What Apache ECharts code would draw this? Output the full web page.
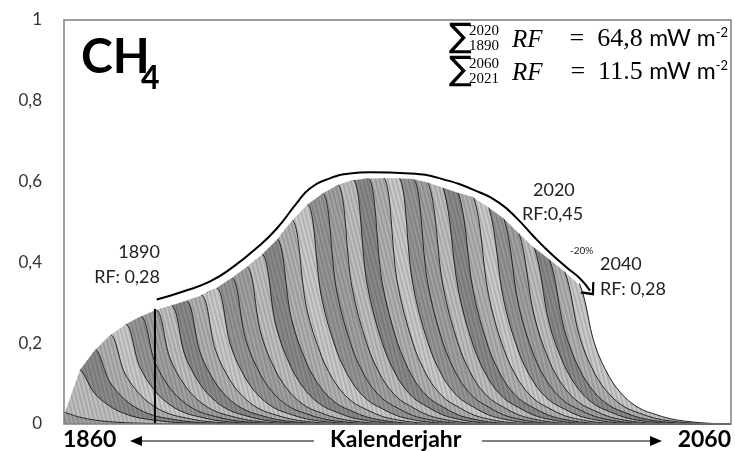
<!DOCTYPE html>
<html>
<head>
<meta charset="utf-8">
<script src="https://cdn.jsdelivr.net/npm/echarts@6/dist/echarts.min.js"></script>
<style>
html, body { margin: 0; padding: 0; background: #fff; }
#main { width: 735px; height: 451px; }
</style>
</head>
<body>
<div id="main"></div>
<script>
// time steps (5-year) on the x axis
var years = [1860, 1865, 1870, 1875, 1880, 1885, 1890, 1895, 1900, 1905, 1910, 1915, 1920,
    1925, 1930, 1935, 1940, 1945, 1950, 1955, 1960, 1965, 1970, 1975, 1980, 1985, 1990,
    1995, 2000, 2005, 2010, 2015, 2020, 2025, 2030, 2035, 2040, 2045, 2050, 2055, 2060,
    2065, 2070, 2075, 2080];
// total RF (top of the grey area) while emitting, 1860..2030
var totalRF = [0.03, 0.135, 0.185, 0.222, 0.248, 0.268, 0.284, 0.295, 0.307, 0.32, 0.338,
    0.363, 0.39, 0.421, 0.458, 0.505, 0.545, 0.572, 0.593, 0.606, 0.61, 0.611, 0.611, 0.609,
    0.6, 0.587, 0.575, 0.564, 0.539, 0.512, 0.475, 0.44, 0.411, 0.381, 0.348];
// fraction of a year's RF left after 0, 5, 10 ... years
var decay = [1, 0.57, 0.33, 0.19, 0.11, 0.069, 0.037, 0.02, 0.009, 0.003, 0];
// black curve drawn above the area
var outlineYears = [1890.6, 1899.3, 1908.2, 1915.8, 1923.6, 1930.2, 1936.7, 1941.1, 1947.7,
    1954.3, 1960.9, 1974.1, 1984, 1997.2, 2003.8, 2009.4, 2014.7, 2020.3, 2025.9, 2030.2, 2033.5];
var outlineRF = [0.308, 0.328, 0.353, 0.389, 0.436, 0.484, 0.546, 0.583, 0.608, 0.62, 0.623,
    0.62, 0.608, 0.573, 0.546, 0.509, 0.466, 0.424, 0.387, 0.36, 0.33];
var markYear = 1890;
var markRF = [0, 0.285];
var yTicks = ['0', '0,2', '0,4', '0,6', '0,8', '1'];

var greys = ['#a2a2a2', '#c0c0c0', '#8a8a8a', '#b2b2b2', '#cbcbcb', '#969696'];

// stack top after cohort k at time step i
function cum(k, i) {
    if (i <= k) return totalRF[i];
    var d = i - k;
    return d < decay.length ? totalRF[k] * decay[d] : 0;
}

var chartDom = document.getElementById('main');
var myChart = echarts.init(chartDom);
var option;

var stripes = {
    symbol: 'rect',
    symbolSize: 1,
    dashArrayX: [1, 0],
    dashArrayY: [2, 2],
    rotation: 1.32,
    color: 'rgba(0,0,0,0.13)'
};

var series = [];
for (var k = 0; k < totalRF.length; k++) {
    var band = [];
    for (var i = 0; i < years.length; i++) {
        var v = cum(k, i) - (k > 0 ? cum(k - 1, i) : 0);
        band.push(Math.max(0, v));
    }
    series.push({
        type: 'line',
        stack: 'rf',
        data: band,
        smooth: 0.35,
        symbol: 'none',
        silent: true,
        itemStyle: { decal: stripes },
        lineStyle: { color: '#222', width: 1, decal: stripes },
        areaStyle: { color: greys[k % greys.length], opacity: 1, decal: stripes },
        z: 2
    });
}

// white cover above the total while emitting, hides the overlap of smoothed stack tops
var last = totalRF.length - 1;
var envTop = years.map(function (y, i) { return i <= last ? cum(last, i) : null; });
series.push({
    type: 'line',
    stack: 'cover',
    data: envTop,
    symbol: 'none',
    silent: true,
    lineStyle: { color: '#fff', width: 2 },
    z: 3
});
series.push({
    type: 'line',
    stack: 'cover',
    data: envTop.map(function (v) { return v === null ? null : 1 - v; }),
    symbol: 'none',
    silent: true,
    lineStyle: { width: 0 },
    areaStyle: { color: '#fff', opacity: 1 },
    z: 3
});

var outline = outlineYears.map(function (y, i) { return [y, outlineRF[i]]; });
outline[outline.length - 1] = {
    value: outline[outline.length - 1],
    symbol: 'path://M0,0L10,10L0,20',
    symbolSize: [9, 16],
    symbolRotate: -50,
    itemStyle: { color: 'none', borderColor: '#000', borderWidth: 2 }
};
series.push({
    type: 'line',
    xAxisIndex: 1,
    data: outline,
    smooth: 0.5,
    symbol: 'none',
    silent: true,
    lineStyle: { color: '#000', width: 2 },
    z: 4
});

series.push({
    type: 'line',
    xAxisIndex: 1,
    data: markRF.map(function (v) { return [markYear, v]; }),
    symbol: 'none',
    silent: true,
    lineStyle: { color: '#000', width: 2 },
    z: 4
});

var txt = 'Lato, "Open Sans", sans-serif';
var narrow = '"Liberation Sans Narrow", Lato, sans-serif';
var serif = '"Liberation Serif", "DejaVu Serif", serif';
var hidden = {
    axisLine: { show: false },
    axisTick: { show: false },
    axisLabel: { show: false },
    splitLine: { show: false }
};
function eq(value) {
    return {
        text: '{e|=  ' + value + ' }{u|mW m}{p|-2}',
        rich: {
            e: { fontSize: 26, fontFamily: serif, fill: '#000' },
            u: { fontSize: 23, fontFamily: txt, fill: '#000' },
            p: { fontSize: 13, fontFamily: txt, fill: '#000', verticalAlign: 'top', lineHeight: 13 }
        }
    };
}

var graphics = [
    { type: 'rect', shape: { x: 64, y: 20, width: 667, height: 404 }, style: { fill: 'none', stroke: '#808080', lineWidth: 1.5 } },
    { type: 'text', left: 81, top: 34, style: { text: 'CH', font: 'bold 48px ' + narrow, fill: '#000' } },
    { type: 'text', left: 141, top: 63, style: { text: '4', font: 'bold 32px ' + narrow, fill: '#000' } },

    { type: 'text', left: 449, top: 21, style: { text: '\u2211', font: '34px "DejaVu Sans"', fill: '#000' } },
    { type: 'text', left: 469, top: 24, style: { text: '2020', font: '15px ' + serif, fill: '#000' } },
    { type: 'text', left: 469, top: 39, style: { text: '1890', font: '15px ' + serif, fill: '#000' } },
    { type: 'text', left: 512, top: 28, style: { text: 'RF', font: 'italic 25px ' + serif, fill: '#000' } },
    { type: 'text', right: 7, top: 26, style: eq('64,8') },

    { type: 'text', left: 449, top: 54, style: { text: '\u2211', font: '34px "DejaVu Sans"', fill: '#000' } },
    { type: 'text', left: 469, top: 57, style: { text: '2060', font: '15px ' + serif, fill: '#000' } },
    { type: 'text', left: 469, top: 72, style: { text: '2021', font: '15px ' + serif, fill: '#000' } },
    { type: 'text', left: 512, top: 61, style: { text: 'RF', font: 'italic 25px ' + serif, fill: '#000' } },
    { type: 'text', right: 7, top: 59, style: eq('11.5') },

    { type: 'text', right: 575, top: 243, style: { text: '1890', font: '18px ' + txt, fill: '#222', align: 'right' } },
    { type: 'text', right: 575, top: 268, style: { text: 'RF: 0,28', font: '18px ' + txt, fill: '#222', align: 'right' } },
    { type: 'text', left: 533, top: 181, style: { text: '2020', font: '18px ' + txt, fill: '#222' } },
    { type: 'text', left: 522, top: 205, style: { text: 'RF:0,45', font: '18px ' + txt, fill: '#222' } },
    { type: 'text', left: 570, top: 246, style: { text: '-20%', font: '10px ' + txt, fill: '#222' } },
    { type: 'text', left: 600, top: 255, style: { text: '2040', font: '18px ' + txt, fill: '#222' } },
    { type: 'text', left: 600, top: 280, style: { text: 'RF: 0,28', font: '18px ' + txt, fill: '#222' } },

    { type: 'text', left: 63, top: 428, style: { text: '1860', font: 'bold 23px ' + narrow, fill: '#000' } },
    { type: 'text', left: 330, top: 428, style: { text: 'Kalenderjahr', font: 'bold 23px ' + narrow, fill: '#000' } },
    { type: 'text', right: 4, top: 428, style: { text: '2060', font: 'bold 23px ' + narrow, fill: '#000' } },
    { type: 'line', shape: { x1: 140, y1: 441, x2: 314, y2: 441 }, style: { stroke: '#000', lineWidth: 1.2 } },
    { type: 'polygon', shape: { points: [[130, 441], [142, 436], [142, 446]] }, style: { fill: '#000' } },
    { type: 'line', shape: { x1: 482, y1: 441, x2: 652, y2: 441 }, style: { stroke: '#000', lineWidth: 1.2 } },
    { type: 'polygon', shape: { points: [[662, 441], [650, 436], [650, 446]] }, style: { fill: '#000' } }
];
graphics.forEach(function (g) { g.z = 100; });

option = {
    animation: false,
    backgroundColor: '#fff',
    grid: {
        left: 64,
        right: 4,
        top: 20,
        bottom: 27
    },
    xAxis: [
        Object.assign({ type: 'category', data: years, boundaryGap: false }, hidden),
        Object.assign({ type: 'value', min: 1860, max: 2080 }, hidden)
    ],
    yAxis: {
        type: 'value',
        min: 0,
        max: 1,
        interval: 0.2,
        axisLine: { show: false },
        axisTick: { show: false },
        splitLine: { show: false },
        axisLabel: {
            margin: 22,
            fontSize: 17,
            fontFamily: txt,
            color: '#333',
            formatter: function (v) { return yTicks[Math.round(v / 0.2)]; }
        }
    },
    graphic: graphics,
    series: series
};

option && myChart.setOption(option);
</script>
</body>
</html>
